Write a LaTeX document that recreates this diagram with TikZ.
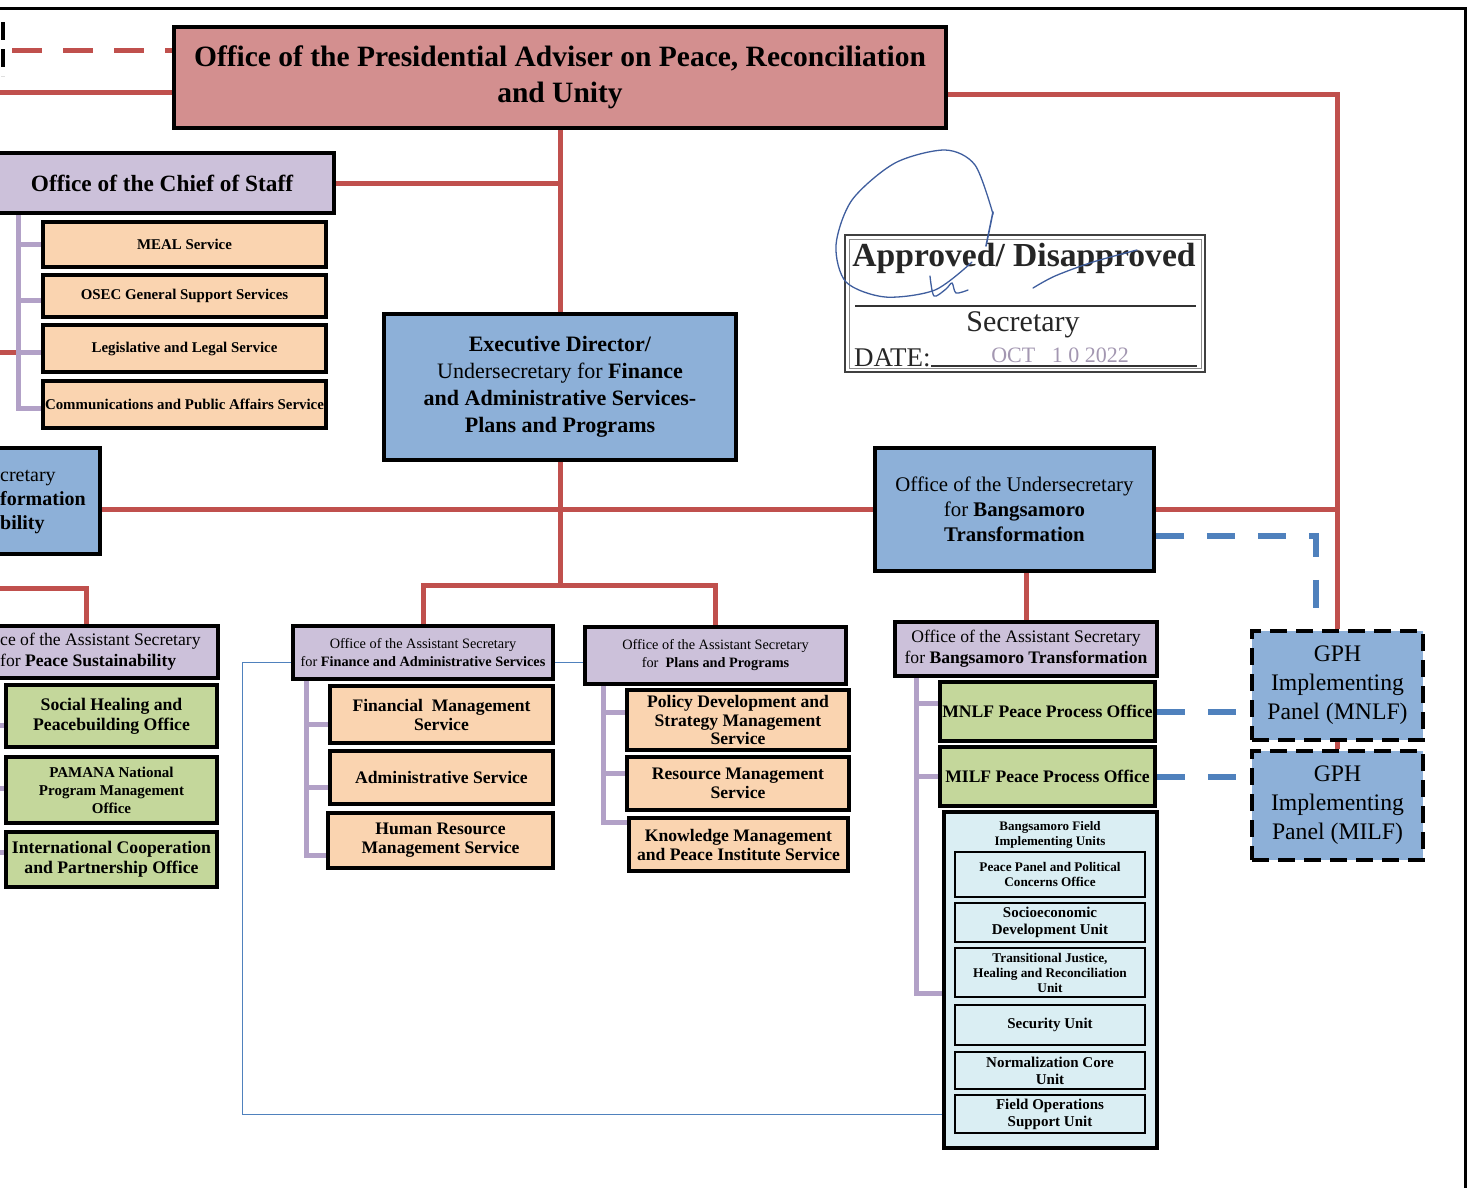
\documentclass[tikz,border=0pt]{standalone}
\usepackage{fontspec}
\setmainfont{Liberation Serif}
\usetikzlibrary{calc,backgrounds}
\definecolor{opred}{HTML}{D38F8F}
\definecolor{linered}{HTML}{C0504D}
\definecolor{lav}{HTML}{CCC1DA}
\definecolor{peach}{HTML}{FAD4B0}
\definecolor{leaf}{HTML}{C4D79B}
\definecolor{steel}{HTML}{8DB0D8}
\definecolor{ice}{HTML}{DAEEF3}
\definecolor{lilac}{HTML}{B2A1C7}
\definecolor{dashblue}{HTML}{4F81BD}
\definecolor{inkblue}{HTML}{3F5E9E}
\newcommand{\fs}[2]{\fontsize{#1}{#2}\selectfont}
\begin{document}
\begin{tikzpicture}[
    x=1pt, y=-1pt,
    box/.style={draw=black, line width=3.5pt, align=center, inner sep=1pt},
    sz/.style 2 args={minimum width=#1pt, minimum height=#2pt},
    headbox/.style={box, fill=opred, font=\fs{29.5}{36}\bfseries},
    lavbox/.style={box, fill=lav},
    peachbox/.style={box, fill=peach, font=\fs{14.9}{17}\bfseries},
    leafbox/.style={box, fill=leaf, font=\fs{17.7}{20}\bfseries},
    bluebox/.style={box, fill=steel},
    unitbox/.style={draw=black, line width=2.5pt, fill=ice, align=center, inner sep=1pt, font=\fs{15}{17}\bfseries},
    panelbox/.style={box, fill=steel, dash pattern=on 17pt off 9pt, font=\fs{23.7}{29}},
    redline/.style={draw=linered, line width=5pt},
    lilacline/.style={draw=lilac, line width=5pt},
    thinline/.style={draw=dashblue, line width=1pt},
    dashline/.style={draw=dashblue, line width=6pt, dash pattern=on 28pt off 23pt},
  ]
  \useasboundingbox (0,0) rectangle (1470,1187);

  % frame of the page
  \draw[line width=3pt] (-5,8) -- (1465,8) -- (1465,1195);
  \draw[line width=4pt, dash pattern=on 18pt off 9pt] (3,22) -- (3,76);

  % top office
  \node[headbox, sz={772}{101}] (opapru) at (560,77.5) {Office of the Presidential Adviser on Peace, Reconciliation\\and Unity};

  % chief of staff and services
  \node[lavbox, sz={344}{60}, font=\fs{23.3}{26}\bfseries] (cos) at (162,183) {Office of the Chief of Staff};
  \node[peachbox, sz={283}{45}] (meal) at (184.5,244.5) {MEAL Service};
  \node[peachbox, sz={283}{42}] (osec) at (184.5,296) {OSEC General Support Services};
  \node[peachbox, sz={283}{47}] (legal) at (184.5,348.5) {Legislative and Legal Service};
  \node[peachbox, sz={283}{47}] (comm) at (184.5,404.5) {Communications and Public Affairs Service};

  % executive director
  \node[bluebox, sz={352}{146}, font=\fs{22}{27}] (execdir) at (560,387) {\textbf{Executive Director/}\\Undersecretary for \textbf{Finance}\\\textbf{and Administrative Services-}\\\textbf{Plans and Programs}};

  % cut-off undersecretary on the left
  \node[bluebox, sz={150}{106}] (usecpt) at (25,501) {};
  \node[anchor=west, align=left, font=\fs{20}{24}, inner sep=0pt] (usecpttext) at (0,502) {cretary\\\textbf{formation}\\\textbf{bility}};

  % peace sustainability
  \node[lavbox, sz={264}{52}] (asecps) at (86,652) {};
  \node[anchor=west, align=left, font=\fs{17.6}{21}, inner sep=0pt] (asecpstext) at (0,652) {ce of the Assistant Secretary\\for \textbf{Peace Sustainability}};
  \node[leafbox, sz={211}{62}] (shpo) at (111.5,716) {Social Healing and\\Peacebuilding Office};
  \node[leafbox, sz={211}{66}, font=\fs{15}{18}\bfseries] (pamana) at (111.5,790) {PAMANA National\\Program Management\\Office};
  \node[leafbox, sz={211}{55}] (icpo) at (111.5,859.5) {International Cooperation\\and Partnership Office};

  % finance and plans
  \node[lavbox, sz={260}{53}, font=\fs{14.3}{18}] (asecfas) at (423,652.5) {Office of the Assistant Secretary\\for \textbf{Finance and Administrative Services}};
  \node[lavbox, sz={261}{57}, font=\fs{14.3}{18}] (asecpp) at (715.5,655.5) {Office of the Assistant Secretary\\for\ \ \textbf{Plans and Programs}};
  \node[peachbox, sz={223}{57}, font=\fs{17.6}{19}\bfseries] (fms) at (441.5,714.5) {Financial\ \ Management\\Service};
  \node[peachbox, sz={223}{53}, font=\fs{17.6}{19}\bfseries] (adms) at (441.5,777.5) {Administrative Service};
  \node[peachbox, sz={225}{55}, font=\fs{17.6}{19}\bfseries] (hrms) at (440.5,840.5) {Human Resource\\Management Service};
  \node[peachbox, sz={222}{60}, font=\fs{17.6}{18.5}\bfseries] (pdsms) at (738,720) {Policy Development and\\Strategy Management\\Service};
  \node[peachbox, sz={222}{53}, font=\fs{17.6}{19}\bfseries] (rms) at (738,783.5) {Resource Management\\Service};
  \node[peachbox, sz={219}{53}, font=\fs{17.6}{19}\bfseries] (kmpis) at (738.5,844.5) {Knowledge Management\\and Peace Institute Service};

  % bangsamoro
  \node[bluebox, sz={279}{123}, font=\fs{20.8}{25}] (usecbt) at (1014.5,509.5) {Office of the Undersecretary\\for \textbf{Bangsamoro}\\\textbf{Transformation}};
  \node[lavbox, sz={262}{54}, font=\fs{17.6}{21}] (asecbt) at (1026,649) {Office of the Assistant Secretary\\for \textbf{Bangsamoro Transformation}};
  \node[leafbox, sz={215}{59}, font=\fs{17.6}{20}\bfseries] (mnlfppo) at (1047.5,711.5) {MNLF Peace Process Office};
  \node[leafbox, sz={215}{59}, font=\fs{17.6}{20}\bfseries] (milfppo) at (1047.5,776.5) {MILF Peace Process Office};
  \node[box, fill=ice, sz={213}{336}] (bfiu) at (1050.5,980) {};
  \node[font=\fs{13}{15}\bfseries, align=center] (bfiutitle) at (1050,835) {Bangsamoro Field\\Implementing Units};
  \node[unitbox, sz={190}{45}, font=\fs{13.2}{15}\bfseries] (pppco) at (1050,874.5) {Peace Panel and Political\\Concerns Office};
  \node[unitbox, sz={190}{39}] (sedu) at (1050,922.5) {Socioeconomic\\Development Unit};
  \node[unitbox, sz={190}{49}, font=\fs{13.3}{15}\bfseries] (tjhru) at (1050,972.5) {Transitional Justice,\\Healing and Reconciliation\\Unit};
  \node[unitbox, sz={190}{40}] (secu) at (1050,1025) {Security Unit};
  \node[unitbox, sz={190}{37}] (ncu) at (1050,1070.5) {Normalization Core\\Unit};
  \node[unitbox, sz={190}{38}] (fosu) at (1050,1114) {Field Operations\\Support Unit};

  % implementing panels
  \node[panelbox, sz={171}{109}] (gphmnlf) at (1337.5,685.5) {GPH\\Implementing\\Panel (MNLF)};
  \node[panelbox, sz={171}{109}] (gphmilf) at (1337.5,805.5) {GPH\\Implementing\\Panel (MILF)};

  % approval stamp
  \draw[line width=1.2pt, black!75] (845,235) rectangle (1205,372);
  \draw[line width=0.6pt, black!45] (849,239) rectangle (1201,368);
  \node[font=\fs{33.6}{38}\bfseries, text=black!85] (approved) at (1024,258) {Approved/ Disapproved};
  \draw[line width=1.5pt, black!80] (855,306) -- (1196,306);
  \node[font=\fs{30}{32}, text=black!85] (secretary) at (1023,325) {Secretary};
  \node[font=\fs{27}{30}, text=black!85, anchor=base west, inner sep=0pt] (datelbl) at (854,366) {DATE:};
  \draw[line width=1.2pt, black!80] (datelbl.base east) -- ++(266,0);
  \node[font=\fs{22}{24}, text=lilac!70!gray] (stampdate) at (1060,355) {OCT\ \ \ 1 0 2022};
  % signature
  \draw[inkblue, line width=1.3pt, line cap=round] plot[smooth] coordinates {(993,214) (975,165) (945,150) (895,163) (852,200) (836,245) (846,282) (885,297) (935,290) (972,262)};
  \draw[inkblue, line width=1.6pt, line cap=round] (993,212) -- (986,246);
  \draw[inkblue, line width=1.3pt, line cap=round] plot[smooth] coordinates {(930,276) (934,296) (946,289) (952,283) (956,293) (968,290)};
  \draw[inkblue, line width=1.3pt, line cap=round] plot[smooth] coordinates {(1033,288) (1055,276) (1093,262) (1137,250)};

  % connectors
  \coordinate (fork) at (560,585);
  \coordinate (rededge1) at (-10,92.5);
  \coordinate (rededge2) at (12,50.5);
  \coordinate (rededge3) at (-10,588);
  \coordinate (rededge4) at (-10,352);
  \coordinate (cosrail) at ($(cos.south west)+(30,0)$);
  \coordinate (psrail) at (-10,678);
  \coordinate (fasrail) at ($(asecfas.south west)+(15,0)$);
  \coordinate (pprail) at ($(asecpp.south west)+(20,0)$);
  \coordinate (btrail) at ($(asecbt.south west)+(23,0)$);
  \begin{scope}[on background layer]
    \draw[redline] (opapru.south) -- (execdir.north);
    \draw[redline] (execdir.south) -- (fork);
    \draw[redline] (asecfas.north) |- (fork) -| (asecpp.north);
    \draw[redline] (cos.east) -- (cos.east -| opapru.south);
    \draw[redline] ($(opapru.west)+(0,15)$) -- (rededge1);
    \draw[redline, dash pattern=on 30pt off 21pt] (rededge2) -- (rededge2 -| opapru.west);
    \draw[redline] (rededge4) -- (rededge4 -| cosrail);
    \draw[redline] (usecpt.east |- usecbt.west) -- (usecbt.west);
    \draw[redline] ($(opapru.east)+(0,17)$) -| (gphmnlf.north);
    \draw[redline] (usecbt.east) -- (usecbt.east -| gphmnlf.north);
    \draw[redline] (gphmnlf.south) -- (gphmilf.north);
    \draw[redline] (asecbt.north |- usecbt.south) -- (asecbt.north);
    \draw[redline] (asecps.north) |- (rededge3);
    % office rails
    \draw[lilacline] (cosrail) |- (meal.west);
    \draw[lilacline] (cosrail) |- ($(osec.west)+(0,4)$);
    \draw[lilacline] (cosrail) |- ($(legal.west)+(0,4)$);
    \draw[lilacline] (cosrail) |- ($(comm.west)+(0,4)$);
    \draw[lilacline] (psrail) |- ($(shpo.west)+(0,9)$);
    \draw[lilacline] (psrail) |- ($(pamana.west)+(0,-2)$);
    \draw[lilacline] (psrail) |- ($(icpo.west)+(0,-7)$);
    \draw[lilacline] (fasrail) |- ($(fms.west)+(0,10)$);
    \draw[lilacline] (fasrail) |- ($(adms.west)+(0,10)$);
    \draw[lilacline] (fasrail) |- ($(hrms.west)+(0,15)$);
    \draw[lilacline] (pprail) |- ($(pdsms.west)+(0,-8)$);
    \draw[lilacline] (pprail) |- ($(rms.west)+(0,-10)$);
    \draw[lilacline] (pprail) |- ($(kmpis.west)+(0,-22)$);
    \draw[lilacline] (btrail) |- ($(mnlfppo.west)+(0,-8)$);
    \draw[lilacline] (btrail) |- (milfppo.west);
    \draw[lilacline] (btrail) |- ($(bfiu.west)+(0,13)$);
    % thin blue link
    \draw[thinline] ($(asecfas.west)+(0,10)$) -- ++(-49,0) |- (fosu.west -| bfiu.west);
    \draw[thinline] ($(asecfas.east)+(0,10)$) coordinate (fasright) -- (fasright -| asecpp.west);
    % dashed links to the panels
    \draw[dashline] ($(usecbt.east)+(0,26)$) -| ($(gphmnlf.north)+(-22,-17)$);
    \draw[dashline] (mnlfppo.east) -- (mnlfppo.east -| gphmnlf.west);
    \draw[dashline] (milfppo.east) -- (milfppo.east -| gphmilf.west);
  \end{scope}
\end{tikzpicture}
\end{document}
